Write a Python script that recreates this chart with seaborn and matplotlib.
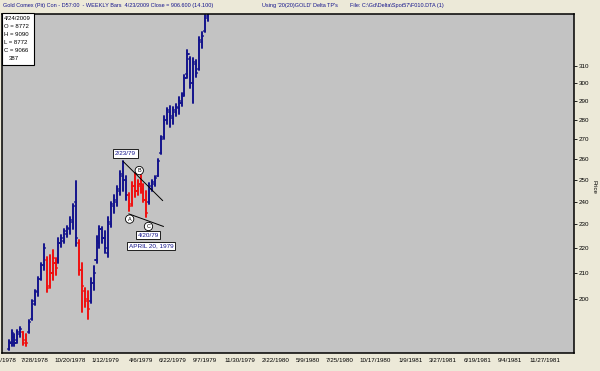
import numpy as np
import pandas as pd
import matplotlib
matplotlib.use("Agg")
import matplotlib.pyplot as plt
import seaborn as sns
from matplotlib.patches import Rectangle

# ---------------- data (weekly bars) ----------------
first_bar = "1978-05-26"
highs = [185.0, 188.5, 187.0, 188.5, 189.5, 188.0, 187.0, 192.0, 199.5, 203.5,
         208.5, 214.0, 221.5, 216.5, 217.0, 219.0, 216.0, 224.0, 225.5, 228.0,
         229.5, 233.0, 239.0, 249.5, 223.5, 214.0, 204.0, 203.0, 208.0, 212.5,
         225.0, 229.5, 229.0, 227.0, 233.0, 240.0, 243.0, 247.0, 254.5, 259.0,
         252.0, 244.0, 249.0, 253.5, 250.0, 252.5, 248.0, 245.0, 248.5, 250.0,
         252.0, 260.0, 271.5, 282.0, 286.5, 287.5, 287.0, 288.5, 292.0, 294.5,
         304.5, 319.0, 315.0, 314.5, 313.5, 327.0, 330.0, 341.0, 380.0]
lows = [181.5, 183.0, 183.0, 184.0, 186.0, 183.5, 183.0, 187.5, 192.0, 197.5,
        201.0, 207.0, 211.0, 202.5, 204.0, 207.0, 209.0, 214.0, 220.5, 222.0,
        224.5, 226.0, 228.0, 221.0, 209.0, 195.0, 197.0, 192.5, 198.5, 203.5,
        214.0, 220.0, 222.0, 218.0, 216.5, 229.0, 235.0, 238.0, 243.0, 245.0,
        241.0, 236.0, 238.0, 242.0, 243.0, 244.0, 240.0, 233.0, 239.0, 245.0,
        247.0, 252.0, 262.5, 270.0, 278.0, 276.0, 278.0, 282.0, 283.0, 287.5,
        293.0, 303.0, 297.5, 289.0, 303.5, 307.5, 320.5, 330.5, 337.0]
opens = [182.0, 184.0, 186.0, 185.0, 187.0, 188.0, 185.0, 188.0, 192.5, 198.0,
         202.5, 207.5, 213.0, 215.0, 205.0, 210.0, 214.0, 215.0, 222.0, 223.0,
         226.0, 228.0, 231.0, 240.0, 222.0, 211.0, 203.0, 200.0, 199.0, 206.0,
         215.0, 222.0, 228.0, 224.0, 218.0, 230.0, 238.0, 240.0, 245.0, 252.0,
         250.0, 243.0, 239.0, 247.0, 245.0, 248.0, 246.0, 241.0, 240.0, 246.0,
         248.0, 252.0, 263.0, 271.0, 280.0, 284.0, 281.0, 284.0, 286.0, 289.0,
         294.0, 305.0, 314.0, 300.0, 311.0, 308.0, 324.0, 331.0, 340.0]
closes = [184.5, 187.5, 184.0, 188.0, 189.0, 184.0, 184.0, 191.5, 199.0, 203.0,
          207.5, 213.0, 220.0, 204.0, 210.0, 216.0, 212.0, 222.0, 224.0, 227.0,
          228.5, 232.0, 238.0, 224.0, 211.0, 205.0, 199.0, 196.0, 206.0, 210.0,
          223.0, 228.0, 224.0, 220.0, 231.0, 239.0, 241.0, 246.0, 253.0, 250.0,
          243.0, 238.0, 247.0, 245.0, 247.0, 246.0, 241.0, 235.0, 247.0, 249.0,
          251.0, 259.0, 270.0, 280.0, 285.0, 282.0, 285.0, 287.0, 290.0, 293.0,
          303.0, 317.0, 300.0, 312.0, 306.0, 325.0, 328.0, 339.0, 370.0]
bar_kind = (["up"] * 5 + ["down"] * 2 + ["up"] * 6 + ["down"] * 4 + ["up"] * 7 +
            ["down"] * 4 + ["up"] * 13 + ["down"] * 7 + ["up"] * 21)

price_ticks = [200, 210, 220, 230, 240, 250, 260, 270, 280, 290, 300, 310]
date_tick_labels = ["5/12/1978", "7/28/1978", "10/20/1978", "1/12/1979", "4/6/1979",
                    "6/22/1979", "9/7/1979", "11/30/1979", "2/22/1980", "5/9/1980",
                    "7/25/1980", "10/17/1980", "1/9/1981", "3/27/1981", "6/19/1981",
                    "9/4/1981", "11/27/1981"]

title_left = "Gold Comex (Pit) Con - D57:00  - WEEKLY Bars  4/23/2009 Close = 906.600 (14.100)"
title_mid = "Using '20(20)GOLD' Delta TP's"
title_right = "File: C:\\Gd\\Delta\\Spot57\\F010.DTA (1)"
info_lines = ["4/24/2009", "O = 8772", "H = 9090", "L = 8772", "C = 9066"]
info_count = "387"

# ---------------- build long-form table for seaborn ----------------
dates = pd.date_range(first_bar, periods=len(highs), freq="7D")
tick = pd.Timedelta(days=2.6)
rows = []
for i, d in enumerate(dates):
    k = bar_kind[i]
    rows += [(d, lows[i], f"v{i}", k), (d, highs[i], f"v{i}", k),
             (d - tick, opens[i], f"o{i}", k), (d, opens[i], f"o{i}", k),
             (d, closes[i], f"c{i}", k), (d + tick, closes[i], f"c{i}", k)]
df = pd.DataFrame(rows, columns=["date", "price", "seg", "kind"])

# ---------------- figure ----------------
W, H = 600, 371
BG = "#ece9d8"
PLOT_BG = "#c3c3c3"
NAVY = "#14148c"
RED = "#f01010"

sns.set_style("white")
plt.rcParams["font.family"] = ["Liberation Sans", "DejaVu Sans"]

fig = plt.figure(figsize=(W / 100, H / 100), dpi=100, facecolor=BG)

def fx(x):
    return x / W

def fy(y):
    return 1 - y / H

ax = fig.add_axes([fx(2), fy(353), fx(574) - fx(2), fy(14.3) - fy(353)])
ax.set_facecolor(PLOT_BG)

sns.lineplot(data=df, x="date", y="price", units="seg", hue="kind",
             palette={"up": NAVY, "down": RED}, estimator=None, sort=False,
             lw=1.4, legend=False, ax=ax)

ax.set_yscale("log")
ax.set_ylim(180.6, 341.4)
x0 = pd.Timestamp("1978-07-28")
ax.set_xlim(x0 - pd.Timedelta(days=78.8), x0 + pd.Timedelta(days=1287.2))

ax.yaxis.tick_right()
ax.set_yticks(price_ticks)
ax.set_yticklabels([str(p) for p in price_ticks])
ax.yaxis.set_minor_locator(matplotlib.ticker.NullLocator())
tick_dates = pd.to_datetime(date_tick_labels, format="%m/%d/%Y")
ax.set_xticks(tick_dates)
ax.set_xticklabels(date_tick_labels)
ax.tick_params(axis="both", length=2, width=0.6, labelsize=4.5, pad=1.5,
               colors="black", direction="out")
ax.set_xlabel("")
ax.set_ylabel("")
for s in ax.spines.values():
    s.set_visible(True)
    s.set_color("black")
    s.set_linewidth(1.1)

# ---------------- annotations ----------------
def d(s):
    return pd.Timestamp(s)

ax.plot([d("1979-02-23"), d("1979-05-29")], [259.0, 240.5], color="black", lw=0.7, zorder=3)
ax.plot([d("1979-03-09"), d("1979-05-31")], [234.6, 229.1], color="black", lw=0.7, zorder=3)

circ = dict(boxstyle="circle,pad=0.3", fc="white", ec="black", lw=0.6)
for lab, dt, pr in [("A", "1979-03-11", 232.3), ("B", "1979-04-03", 254.5), ("C", "1979-04-25", 229.1)]:
    ax.text(d(dt), pr, lab, fontsize=4.0, ha="center", va="center", color="black",
            bbox=circ, zorder=5)

sq = dict(boxstyle="square,pad=0.25", fc="white", ec="black", lw=0.6)
ax.text(d("1979-03-01"), 262.8, "2/23/79", fontsize=4.6, ha="center", va="center",
        color=NAVY, bbox=sq, zorder=5)
ax.text(d("1979-04-24"), 225.3, "4/20/79", fontsize=4.6, ha="center", va="center",
        color=NAVY, bbox=sq, zorder=5)
ax.text(d("1979-05-01"), 220.9, "APRIL 20, 1979", fontsize=4.6, ha="center", va="center",
        color=NAVY, bbox=sq, zorder=5)

# ---------------- header / info box / axis title ----------------
fig.text(fx(3), fy(6), title_left, fontsize=4.0, color=NAVY, va="center", ha="left")
fig.text(fx(262), fy(6), title_mid, fontsize=4.0, color=NAVY, va="center", ha="left")
fig.text(fx(350), fy(6), title_right, fontsize=4.0, color=NAVY, va="center", ha="left")

fig.add_artist(Rectangle((fx(2), fy(65)), fx(34) - fx(2), fy(13.5) - fy(65),
                         transform=fig.transFigure, fc="white", ec="black", lw=0.8, zorder=10))
for j, line in enumerate(info_lines):
    fig.text(fx(4), fy(18 + 8.2 * j), line, fontsize=4.3, color="black",
             va="center", ha="left", zorder=11)
fig.text(fx(14), fy(59), info_count, fontsize=4.3, color="black", va="center",
         ha="center", zorder=11)

fig.text(fx(594), fy(187), "Price", fontsize=4.4, rotation=270, va="center",
         ha="center", color="black")

fig.savefig("out.png", dpi=100, facecolor=BG)
